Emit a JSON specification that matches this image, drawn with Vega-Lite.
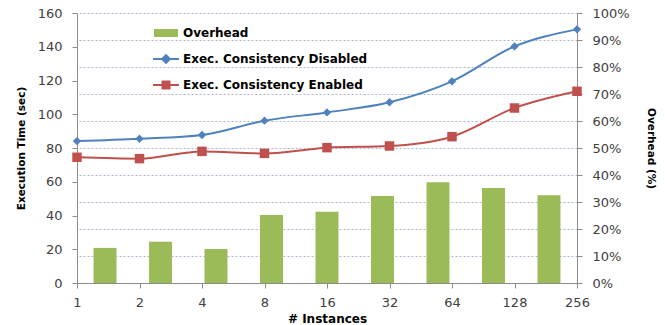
{
  "$schema": "https://vega.github.io/schema/vega-lite/v6.json",
  "width": 500,
  "height": 270,
  "autosize": {"type": "none"},
  "padding": {"left": 77, "top": 13, "right": 88, "bottom": 42},
  "background": "white",
  "config": {
    "view": {"stroke": null},
    "font": "DejaVu Sans",
    "axis": {
      "labelFont": "DejaVu Sans",
      "labelFontSize": 13,
      "labelColor": "#404040",
      "labelOverlap": false,
      "titleFont": "DejaVu Sans",
      "titleFontWeight": "bold",
      "titleColor": "#000000",
      "domainColor": "#8c8c8c",
      "tickColor": "#8c8c8c",
      "tickSize": 5,
      "labelPadding": 9
    }
  },
  "datasets": {
    "overhead": [
      {"instances": "1", "series": "Overhead", "overhead": 0.130},
      {"instances": "2", "series": "Overhead", "overhead": 0.153},
      {"instances": "4", "series": "Overhead", "overhead": 0.126},
      {"instances": "8", "series": "Overhead", "overhead": 0.252},
      {"instances": "16", "series": "Overhead", "overhead": 0.264},
      {"instances": "32", "series": "Overhead", "overhead": 0.322},
      {"instances": "64", "series": "Overhead", "overhead": 0.373},
      {"instances": "128", "series": "Overhead", "overhead": 0.352},
      {"instances": "256", "series": "Overhead", "overhead": 0.325}
    ],
    "times": [
      {"instances": "1", "series": "Exec. Consistency Disabled", "time": 84.1},
      {"instances": "2", "series": "Exec. Consistency Disabled", "time": 85.5},
      {"instances": "4", "series": "Exec. Consistency Disabled", "time": 87.7},
      {"instances": "8", "series": "Exec. Consistency Disabled", "time": 96.2},
      {"instances": "16", "series": "Exec. Consistency Disabled", "time": 101.1},
      {"instances": "32", "series": "Exec. Consistency Disabled", "time": 107.1},
      {"instances": "64", "series": "Exec. Consistency Disabled", "time": 119.5},
      {"instances": "128", "series": "Exec. Consistency Disabled", "time": 140.2},
      {"instances": "256", "series": "Exec. Consistency Disabled", "time": 150.3},
      {"instances": "1", "series": "Exec. Consistency Enabled", "time": 74.5},
      {"instances": "2", "series": "Exec. Consistency Enabled", "time": 73.7},
      {"instances": "4", "series": "Exec. Consistency Enabled", "time": 78.0},
      {"instances": "8", "series": "Exec. Consistency Enabled", "time": 76.8},
      {"instances": "16", "series": "Exec. Consistency Enabled", "time": 80.2},
      {"instances": "32", "series": "Exec. Consistency Enabled", "time": 81.2},
      {"instances": "64", "series": "Exec. Consistency Enabled", "time": 86.7},
      {"instances": "128", "series": "Exec. Consistency Enabled", "time": 103.7},
      {"instances": "256", "series": "Exec. Consistency Enabled", "time": 113.6}
    ]
  },
  "layer": [
    {
      "data": {"name": "overhead"},
      "mark": {"type": "bar"},
      "encoding": {
        "x": {
          "field": "instances",
          "type": "ordinal",
          "sort": ["1", "2", "4", "8", "16", "32", "64", "128", "256"],
          "scale": {"type": "band", "paddingInner": 0.586, "paddingOuter": 0.298},
          "axis": null
        },
        "y": {
          "field": "overhead",
          "type": "quantitative",
          "scale": {"domain": [0, 1], "nice": false},
          "axis": {
            "orient": "right",
            "title": "Overhead (%)",
            "titleFontSize": 10.5,
            "titlePadding": 16,
            "format": ".0%",
            "values": [0, 0.1, 0.2, 0.3, 0.4, 0.5, 0.6, 0.7, 0.8, 0.9, 1],
            "grid": true,
            "gridColor": "#a9b6c8",
            "gridDash": [2, 2],
            "gridWidth": 1,
            "labelPadding": 10
          }
        },
        "color": {
          "field": "series",
          "type": "nominal",
          "scale": {
            "domain": ["Overhead", "Exec. Consistency Disabled", "Exec. Consistency Enabled"],
            "range": ["#9BBB59", "#4F81BD", "#C0504D"]
          },
          "legend": {
            "title": null,
            "orient": "none",
            "legendX": 75,
            "legendY": 6,
            "padding": 0,
            "rowPadding": 4,
            "labelFont": "DejaVu Sans",
            "labelFontSize": 12,
            "labelFontWeight": "bold",
            "labelColor": "#000000",
            "labelOffset": 3,
            "labelLimit": 0,
            "symbolSize": 676,
            "encode": {
              "symbols": {
                "update": {
                  "shape": {"signal": "datum.value === 'Overhead' ? 'M-0.85,-0.24H0.85V0.24H-0.85Z' : datum.value === 'Exec. Consistency Disabled' ? 'M-1,0H1M0,-0.3L0.3,0L0,0.3L-0.3,0Z' : 'M-1,0H1M-0.27,-0.27H0.27V0.27H-0.27Z'"},
                  "fill": {"signal": "scale('color', datum.value)"},
                  "stroke": {"signal": "scale('color', datum.value)"},
                  "strokeWidth": {"value": 2},
                  "opacity": {"value": 1},
                  "fillOpacity": {"value": 1}
                }
              }
            }
          }
        }
      }
    },
    {
      "data": {"name": "times"},
      "encoding": {
        "x": {
          "field": "instances",
          "type": "ordinal",
          "sort": ["1", "2", "4", "8", "16", "32", "64", "128", "256"],
          "scale": {"type": "point", "padding": 0},
          "axis": {
            "title": "# Instances",
            "titleFontSize": 12,
            "titlePadding": 4,
            "labelAngle": 0,
            "labelPadding": 8
          }
        },
        "y": {
          "field": "time",
          "type": "quantitative",
          "scale": {"domain": [0, 160], "nice": false},
          "axis": {
            "orient": "left",
            "title": "Execution Time (sec)",
            "titleFontSize": 10.5,
            "titlePadding": 11,
            "values": [0, 20, 40, 60, 80, 100, 120, 140, 160],
            "grid": false,
            "labelPadding": 10
          }
        },
        "color": {"field": "series", "type": "nominal"}
      },
      "layer": [
        {
          "mark": {"type": "line", "strokeWidth": 2, "interpolate": "monotone"}
        },
        {
          "mark": {"type": "point", "filled": true, "opacity": 1},
          "encoding": {
            "shape": {
              "field": "series",
              "type": "nominal",
              "scale": {
                "domain": ["Exec. Consistency Disabled", "Exec. Consistency Enabled"],
                "range": ["diamond", "square"]
              },
              "legend": null
            },
            "size": {
              "field": "series",
              "type": "nominal",
              "scale": {
                "domain": ["Exec. Consistency Disabled", "Exec. Consistency Enabled"],
                "range": [70, 90]
              },
              "legend": null
            }
          }
        }
      ]
    }
  ],
  "resolve": {"scale": {"x": "independent", "y": "independent"}}
}
